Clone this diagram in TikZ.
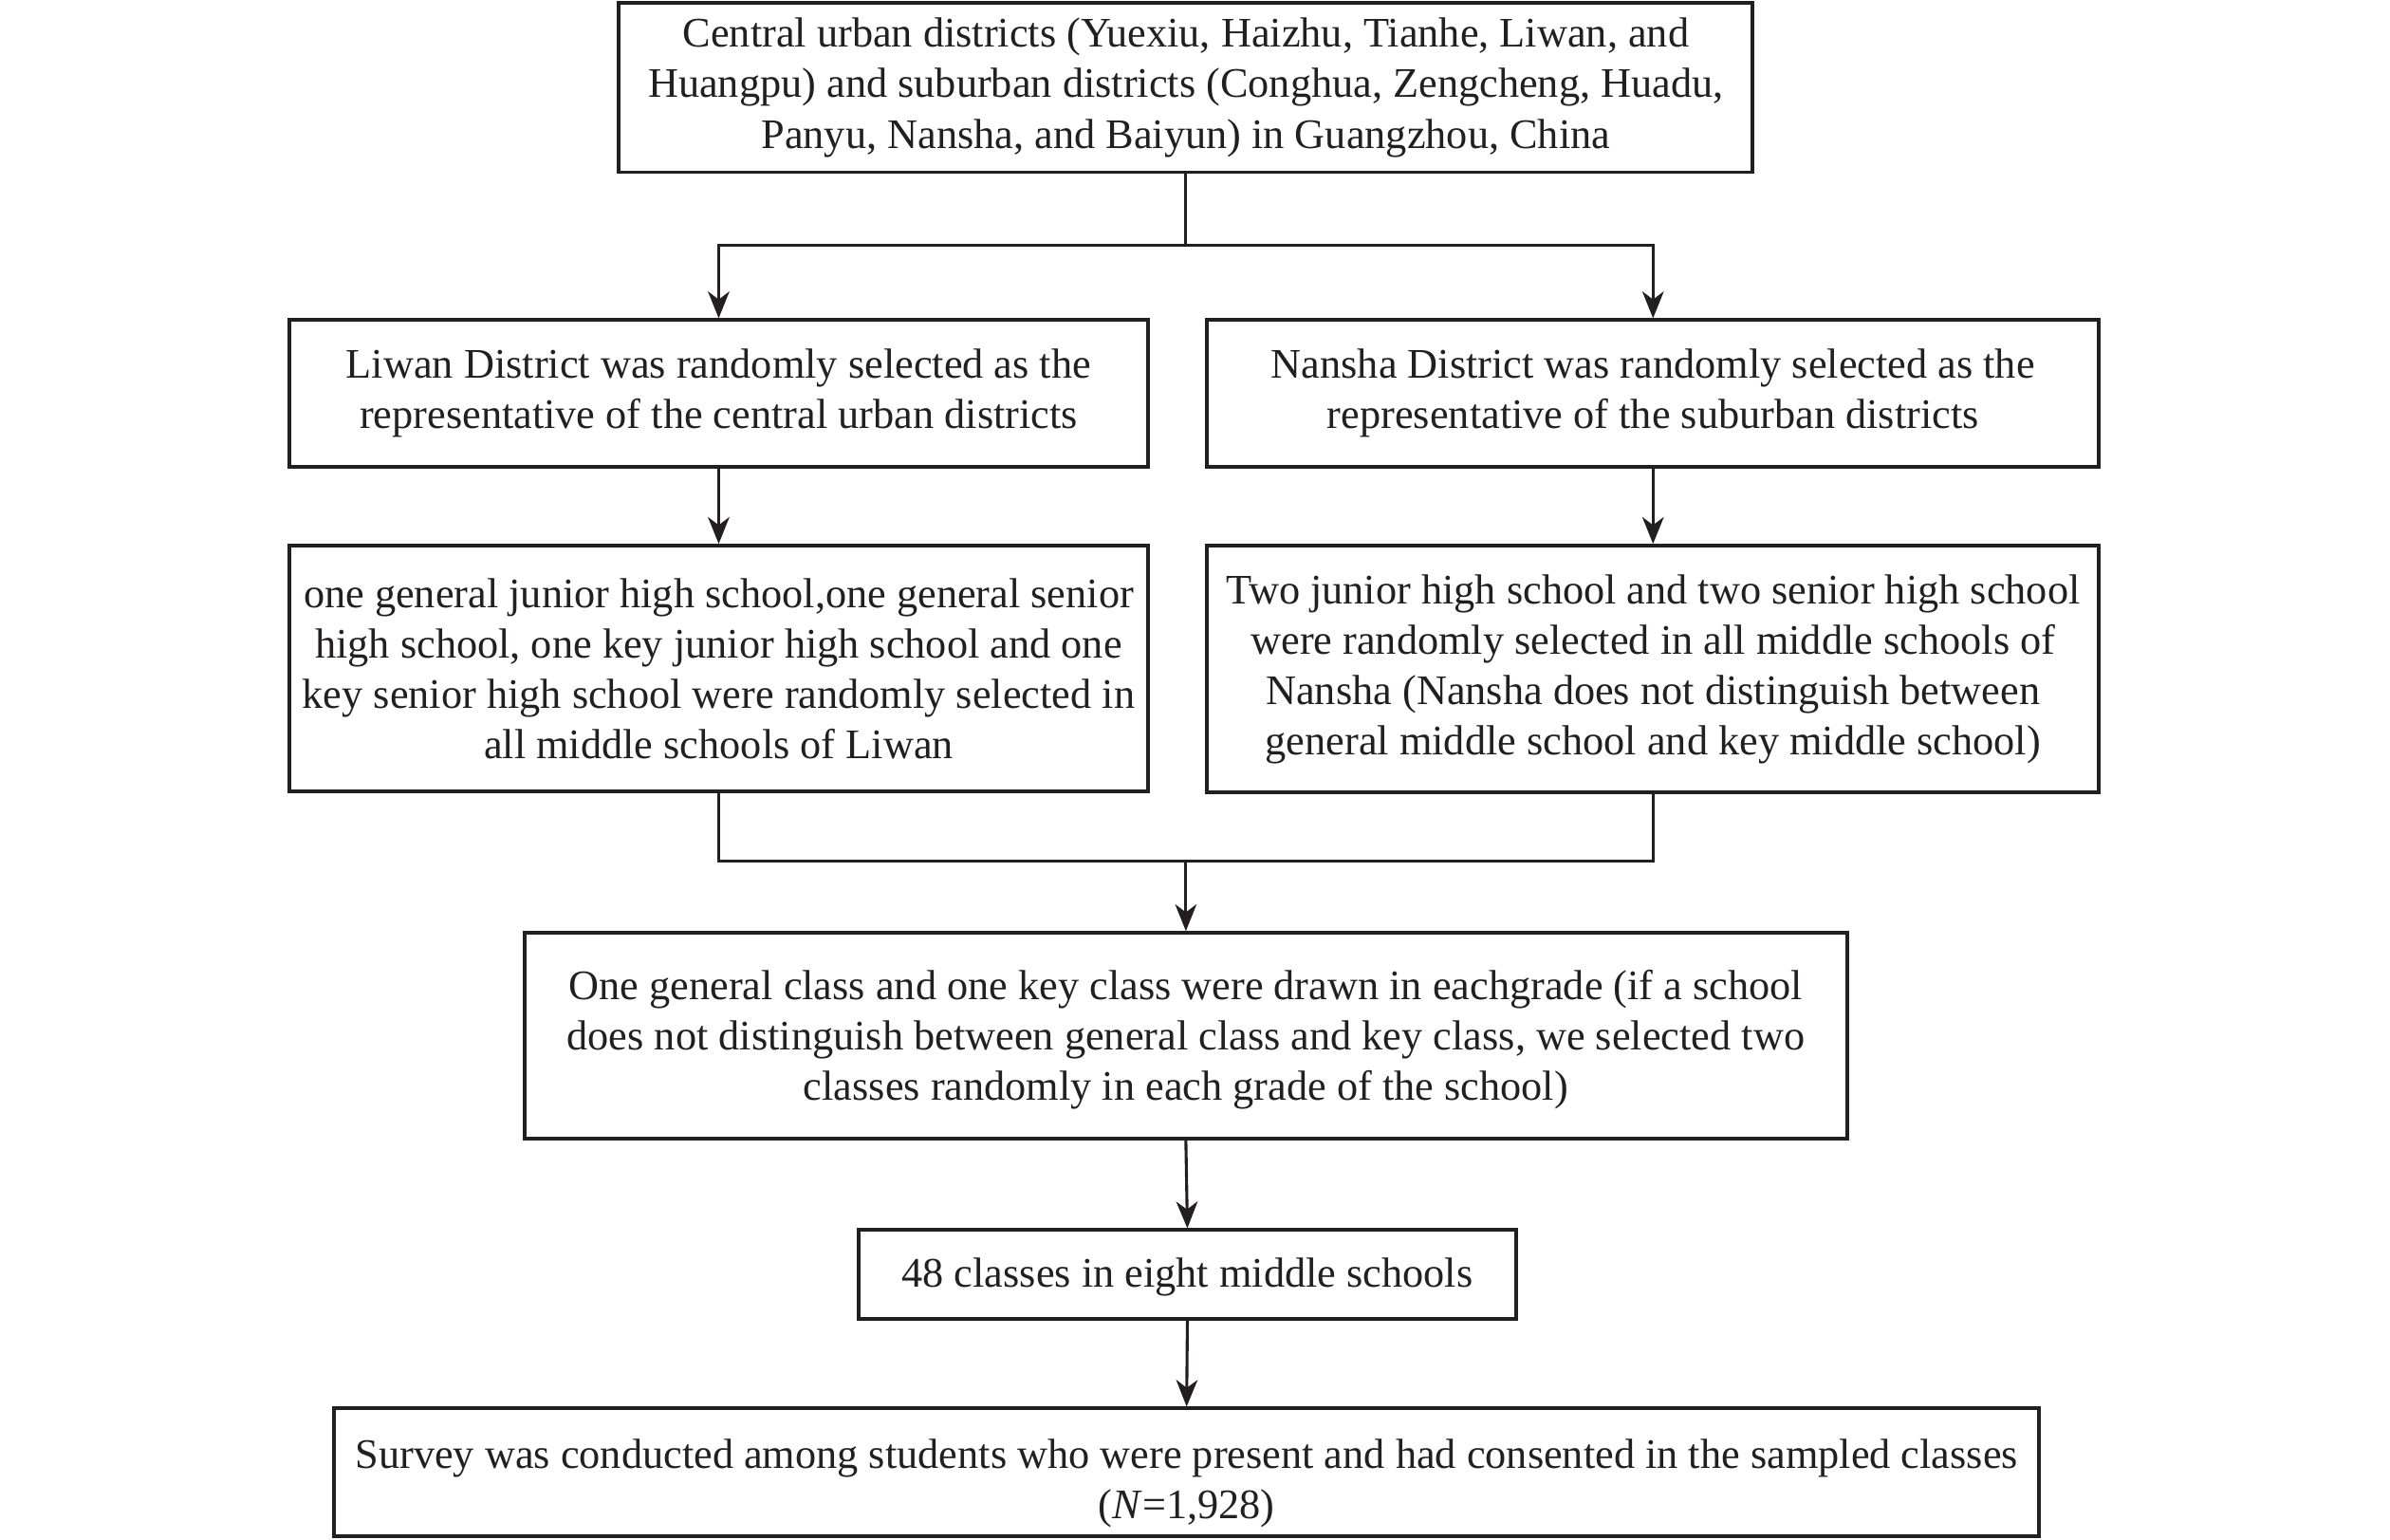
\documentclass[tikz,border=0pt]{standalone}
\usepackage{fontspec}
\setmainfont{Liberation Serif}
\usetikzlibrary{arrows.meta,positioning}
\definecolor{ink}{RGB}{35,31,32}
\begin{document}
\begin{tikzpicture}[x=0.02cm,y=-0.02cm,
  box/.style={draw=ink,line width=1.4pt,align=center,inner sep=0pt,text=ink,
    font=\fontsize{15.7}{18.8}\selectfont},
  conn/.style={draw=ink,line width=1.1pt},
  arr/.style={conn,-{Stealth[length=10pt,width=8pt,inset=3pt]}}]
\useasboundingbox (0,0) rectangle (1568,1010);
\node[box,minimum width=14.88cm,minimum height=2.22cm] (top) at (778,57.5)
  {Central urban districts (Yuexiu, Haizhu, Tianhe, Liwan, and\\
   Huangpu) and suburban districts (Conghua, Zengcheng, Huadu,\\
   Panyu, Nansha, and Baiyun) in Guangzhou, China};
\node[box,minimum width=11.26cm,minimum height=1.92cm] (L2) at (471.5,258)
  {Liwan District was randomly selected as the\\
   representative of the central urban districts};
\node[box,minimum width=11.70cm,minimum height=1.92cm] (R2) at (1084.5,258)
  {Nansha District was randomly selected as the\\
   representative of the suburban districts};
\node[box,minimum width=11.26cm,minimum height=3.22cm] (L3) at (471.5,438.5)
  {one general junior high school,one general senior\\
   high school, one key junior high school and one\\
   key senior high school were randomly selected in\\
   all middle schools of Liwan};
\node[box,minimum width=11.70cm,minimum height=3.24cm] (R3) at (1084.5,439)
  {Two junior high school and two senior high school\\
   were randomly selected in all middle schools of\\
   Nansha (Nansha does not distinguish between\\
   general middle school and key middle school)};
\node[box,minimum width=17.36cm,minimum height=2.70cm] (B4) at (778,679.5)
  {\rule{0pt}{14pt}One general class and one key class were drawn in eachgrade (if a school\\
   does not distinguish between general class and key class, we selected two\\
   classes randomly in each grade of the school)};
\node[box,minimum width=8.64cm,minimum height=1.16cm] (B5) at (779,836)
  {\rule{0pt}{13pt}48 classes in eight middle schools};
\node[box,minimum width=22.38cm,minimum height=1.68cm] (B6) at (778.5,966)
  {\rule{0pt}{19pt}Survey was conducted among students who were present and had consented in the sampled classes\\
   (\textit{N}=1,928)};
\coordinate (j1) at (778,161);
\coordinate (j2) at (778,565);
\draw[conn] (top.south) -- (j1);
\draw[arr] (j1) -| (L2.north);
\draw[arr] (j1) -| (R2.north);
\draw[arr] (L2.south) -- (L3.north);
\draw[arr] (R2.south) -- (R3.north);
\draw[conn] (L3.south) |- (j2);
\draw[conn] (R3.south) |- (j2);
\draw[arr] (j2) -- (B4.north);
\draw[arr] (B4.south) -- (B5.north);
\draw[arr] (B5.south) -- (B6.north);
\end{tikzpicture}
\end{document}
